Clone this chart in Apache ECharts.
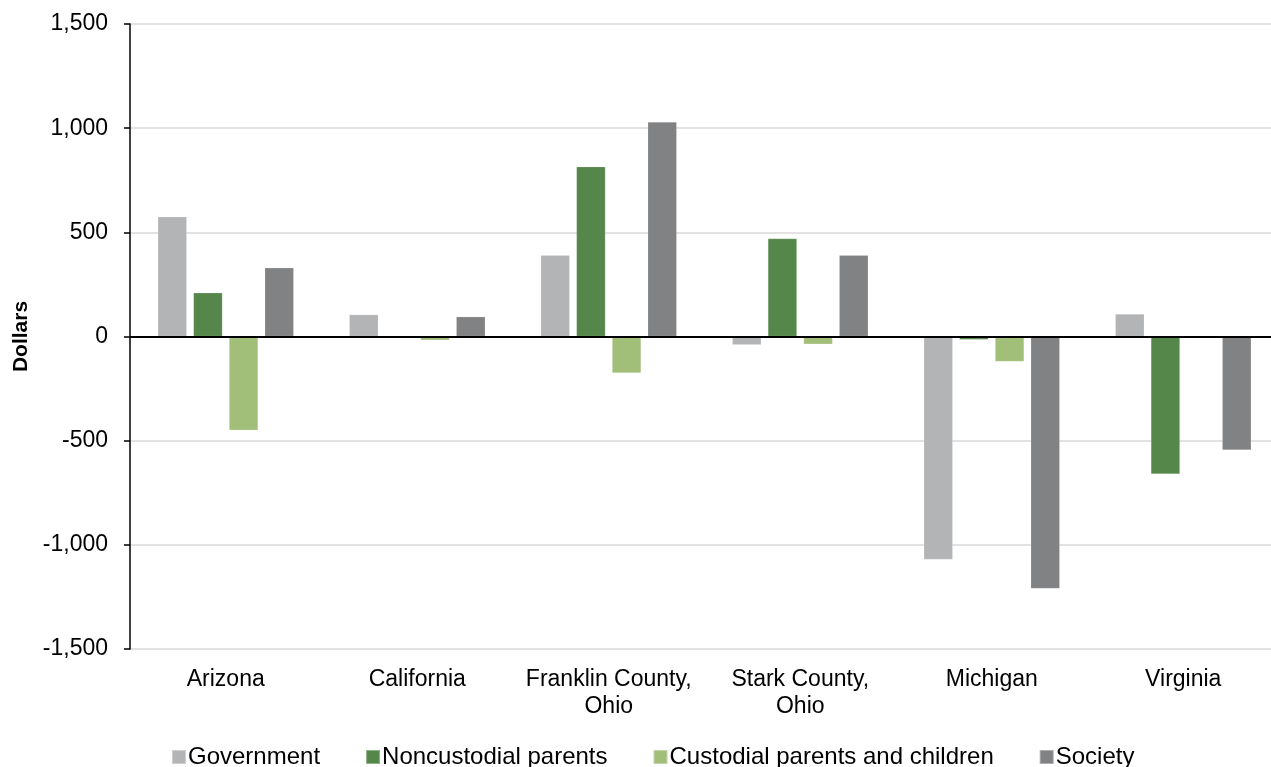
<!DOCTYPE html>
<html><head><meta charset="utf-8">
<script src="https://cdn.jsdelivr.net/npm/echarts@6/dist/echarts.min.js"></script>
<style>html,body{margin:0;padding:0;background:#fff}#c{width:1271px;height:767px}</style>
</head><body><div id="c"></div>
<script>
const categories = ["Arizona", "California", "Franklin County, Ohio", "Stark County, Ohio", "Michigan", "Virginia"];
const government = [575, 105, 390, -40, -1070, 108];
const noncustodial = [210, -2, 815, 470, -15, -660];
const custodial = [-450, -18, -175, -37, -120, 0];
const society = [330, 95, 1030, 390, -1210, -545];
const yTicks = [-1500, 1500, 500];

const font = '"Liberation Sans", Arial, sans-serif';
const chart = echarts.init(document.getElementById('c'));
function bar(name, data, color, extra) {
  return Object.assign({
    name, type: 'bar', data,
    barGap: '23%', barCategoryGap: '29%',
    itemStyle: { color, borderColor: 'rgba(255,255,255,0.35)', borderWidth: 0.5 }
  }, extra || {});
}
chart.setOption({
  animation: false,
  textStyle: { fontFamily: font },
  grid: { left: 130, top: 24, right: -8, bottom: 118, containLabel: false, outerBoundsMode: 'none' },
  legend: {
    top: 740, left: 166, itemWidth: 14, itemHeight: 14, itemGap: 45, icon: 'rect',
    textStyle: { fontFamily: font, fontSize: 24, color: '#000', padding: [0,0,0,-3] },
    data: ['Government', 'Noncustodial parents', 'Custodial parents and children', 'Society']
  },
  xAxis: {
    type: 'category', data: categories,
    axisLine: { show: false, onZero: false }, axisTick: { show: false },
    axisLabel: { color: '#000', fontSize: 23, margin: 17, lineHeight: 27, interval: 0,
      formatter: v => v.replace(', ', ',\n') }
  },
  yAxis: {
    type: 'value', min: yTicks[0], max: yTicks[1], interval: yTicks[2],
    name: 'Dollars', nameLocation: 'middle', nameGap: 98, nameRotate: 90,
    nameTextStyle: { fontWeight: 'bold', fontSize: 21, color: '#000', fontFamily: font },
    axisLine: { show: true, lineStyle: { color: '#000', width: 1.5 } },
    axisTick: { show: true, length: 6, inside: false, lineStyle: { color: '#000', width: 1.5 } },
    axisLabel: { color: '#000', fontSize: 23, margin: 22,
      formatter: v => v.toLocaleString('en-US') },
    splitLine: { lineStyle: { color: '#d9d9d9', width: 1.5 } }
  },
  series: [
    bar('Government', government, '#b3b4b6', {
      markLine: { silent: true, symbol: 'none', label: { show: false },
        lineStyle: { color: '#000', width: 2, type: 'solid' }, data: [{ yAxis: 0 }], z: 10 }
    }),
    bar('Noncustodial parents', noncustodial, '#548749'),
    bar('Custodial parents and children', custodial, '#a2bf7a'),
    bar('Society', society, '#818284')
  ]
});
</script></body></html>
